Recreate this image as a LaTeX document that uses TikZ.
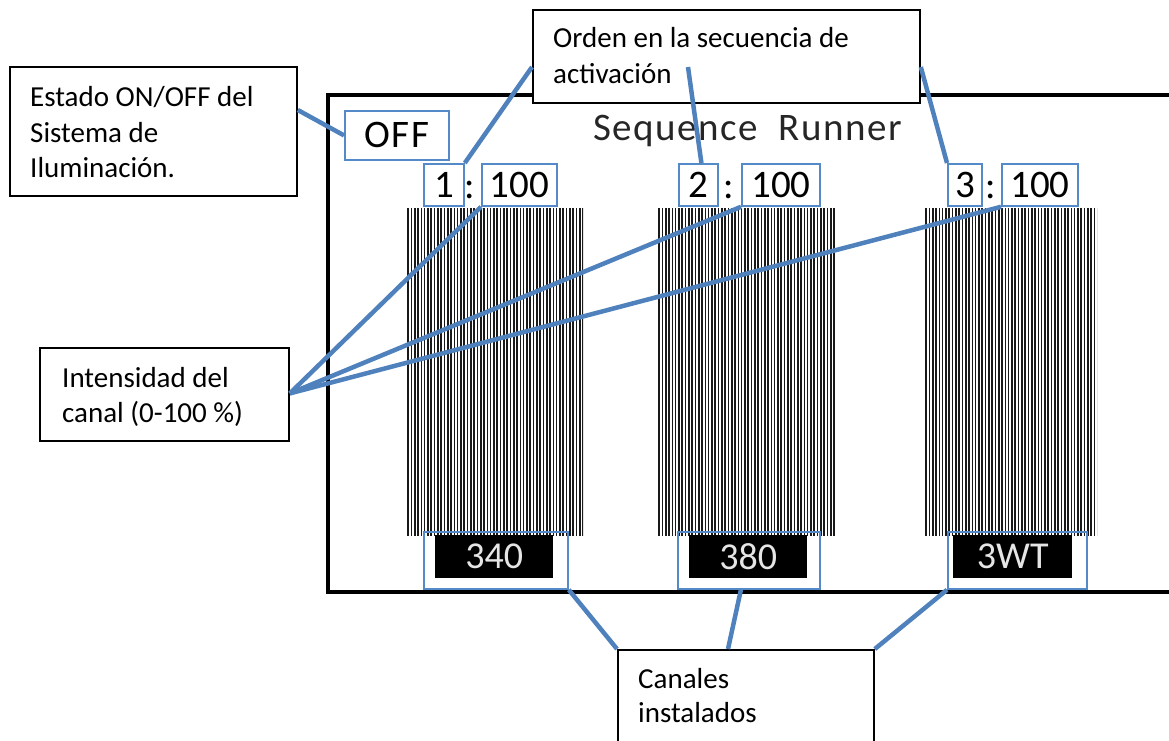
\documentclass[tikz,border=0pt]{standalone}
\usepackage{fontspec}
\setmainfont{Carlito}
\usetikzlibrary{calc}
\definecolor{cblue}{RGB}{79,129,189}
\definecolor{bblue}{RGB}{84,138,200}
\begin{document}
\begin{tikzpicture}[x=1pt,y=-1pt,
  callout/.style={draw=black, line width=1.8pt, fill=white, anchor=north west, inner sep=0pt},
  txt/.style={anchor=base west, inner sep=0pt, font=\fontsize{29}{35}\selectfont},
  bbox/.style={draw=bblue, line width=1.8pt, anchor=north west, inner sep=0pt, font=\fontsize{39}{40}\selectfont},
  lab/.style={fill=black, text=white!90!black, anchor=north west, inner sep=0pt, font=\fontsize{38}{40}\selectfont},
  colon/.style={anchor=base, inner sep=0pt, font=\fontsize{39}{40}\selectfont},
  conn/.style={draw=cblue, line width=4.5pt},
  stripes/.style={anchor=north west, inner sep=0pt, minimum height=327pt,
    path picture={\foreach \k in {0,...,55}{\draw[line width=1.6pt, black!90] ($(path picture bounding box.north west)+(\k*3.3+0.9,0)$) -- ++(0,400);}}}
]
\useasboundingbox (0,0) rectangle (1169,740);
% screen frame
\draw[line width=4pt] (328,95) rectangle (1190,592);
% bars
\node[stripes, minimum width=176pt] (bar1) at (407,208) {};
\node[stripes, minimum width=177pt] (bar2) at (658,208) {};
\node[stripes, minimum width=172pt] (bar3) at (925,208) {};
% channel labels
\node[lab, minimum width=118pt, minimum height=43pt] (k1) at (435,535) {340};
\node[lab, minimum width=118pt, minimum height=43pt] (k2) at (689,535) {380};
\node[lab, minimum width=119pt, minimum height=43pt] (k3) at (953,535) {3WT};
\node[bbox, minimum width=144pt, minimum height=57pt] (l1) at (423,531) {};
\node[bbox, minimum width=142pt, minimum height=57pt] (l2) at (677,531) {};
\node[bbox, minimum width=139pt, minimum height=57pt] (l3) at (947,531) {};
% order and intensity
\node[bbox, minimum width=40pt, minimum height=42pt] (n1) at (423,163) {1};
\node[colon] (d1) at (470,198) {:};
\node[bbox, minimum width=75pt, minimum height=42pt] (c1) at (481,163) {100};
\node[bbox, minimum width=39pt, minimum height=42pt] (n2) at (678,163) {2};
\node[colon] (d2) at (729,198) {:};
\node[bbox, minimum width=78pt, minimum height=42pt] (c2) at (741,163) {100};
\node[bbox, minimum width=34pt, minimum height=42pt] (n3) at (947,163) {3};
\node[colon] (d3) at (991,198) {:};
\node[bbox, minimum width=76pt, minimum height=42pt] (c3) at (1001,163) {100};
% OFF
\node[bbox, minimum width=104pt, minimum height=49pt, font=\fontsize{39}{40}\selectfont\addfontfeature{LetterSpace=5}] (off) at (344,110) {OFF};
% title
\node[anchor=base west, inner sep=0pt, text=black!85, font=\fontsize{39}{40}\selectfont\addfontfeature{LetterSpace=4}] (title) at (593,140) {Sequence\hspace{10pt} Runner};
% callouts
\node[callout, minimum width=287pt, minimum height=129pt] (tl) at (9,66) {};
\node[txt] (tl1) at (30,106) {Estado ON/OFF del};
\node[txt] (tl2) at (30,142) {Sistema de};
\node[txt] (tl3) at (30,177) {Iluminación.};
\node[callout, minimum width=387pt, minimum height=93pt] (top) at (532,9) {};
\node[txt] (top1) at (553,47) {Orden en la secuencia de};
\node[txt] (top2) at (553,83) {activación};
\node[callout, minimum width=249pt, minimum height=93pt] (int) at (39,347) {};
\node[txt] (int1) at (62,387) {Intensidad del};
\node[txt] (int2) at (62,422) {canal (0-100 \%)};
\node[callout, minimum width=256pt, minimum height=120pt] (can) at (617,649) {};
\node[txt] (can1) at (638,688) {Canales};
\node[txt] (can2) at (638,722) {instalados};
% connectors
\draw[conn] ($(tl.north east)+(0,44)$) -- (off.west);
\draw[conn] ($(top.north west)+(0,58)$) -- (n1.north east);
\draw[conn] ($(top.north west)+(156,58)$) -- ($(n2.north)+(3,0)$);
\draw[conn] ($(top.north east)+(0,58)$) -- (n3.north west);
\draw[conn] ($(int.east)+(0,-1)$) -- (c1.south west);
\draw[conn] ($(int.east)+(0,-1)$) -- (c2.south west);
\draw[conn] ($(int.east)+(0,-1)$) -- (c3.south west);
\draw[conn] (can.north west) -- (l1.south east);
\draw[conn] ($(can.north west)+(111,0)$) -- ($(l2.south)+(-8,0)$);
\draw[conn] (can.north east) -- (l3.south west);
\end{tikzpicture}
\end{document}
